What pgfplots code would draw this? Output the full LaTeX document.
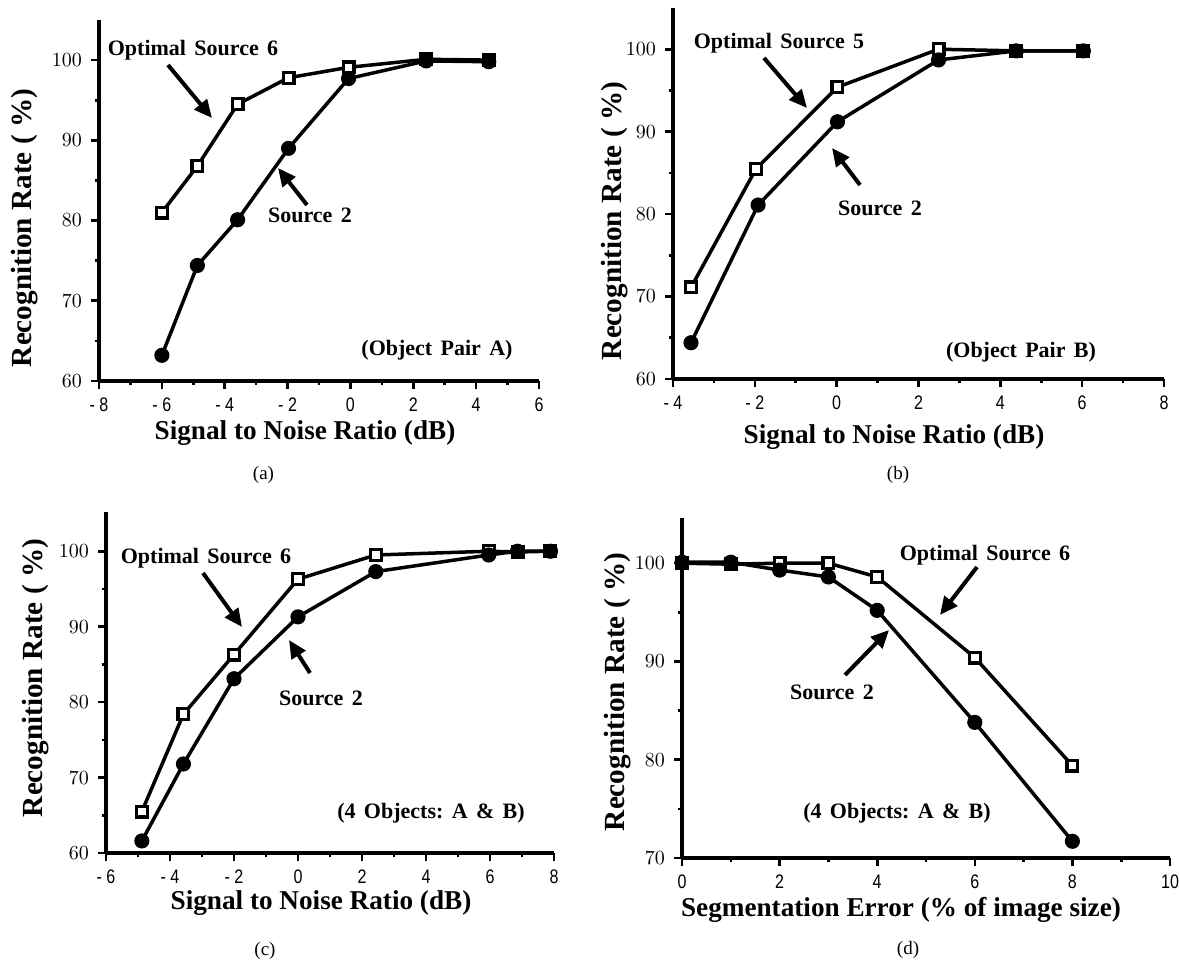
\documentclass[border=0pt]{standalone}
\usepackage{pgfplots}
\pgfplotsset{compat=1.18}
\usepackage{fontspec}
\setmainfont{Liberation Serif}
\newfontfamily\tickfont[FakeStretch=0.82]{Liberation Sans}
\usetikzlibrary{arrows.meta}
\newcommand\ws{\hspace{0.38em}}
\pgfplotsset{
  panel/.style={
    scale only axis,
    anchor=south west,
    axis x line=bottom, axis y line=left,
    axis line style={-, line width=1.7pt},
    tick align=outside,
    major tick length=4pt, minor tick length=2.2pt,
    every tick/.style={line width=1.3pt, black},
    minor x tick num=1, minor y tick num=1,
    ticklabel style={font=\tickfont\fontsize{9.8}{10}\selectfont},
    xticklabel style={yshift=-1pt},
    yticklabel style={xshift=-1pt},
    clip=false,
  },
  optl/.style={black, line width=1.75pt, mark=square*, mark size=2.7pt,
    mark options={fill=white, line width=1.6pt, solid}},
  src/.style={black, line width=1.75pt, mark=*, mark size=2.9pt,
    mark options={fill=black, solid}},
}
\tikzset{
  annt/.style={font=\bfseries\fontsize{11}{12}\selectfont, inner sep=0pt},
  labt/.style={font=\bfseries\fontsize{13.6}{15}\selectfont, inner sep=0pt},
  ylabt/.style={font=\bfseries\fontsize{14.6}{15}\selectfont, inner sep=0pt, rotate=90},
  capt/.style={font=\fontsize{9.5}{11}\selectfont, inner sep=0pt},
  arrw/.style={line width=2pt, -{Triangle[length=9pt,width=8pt]}},
}
\begin{document}
\begin{tikzpicture}[x=1pt,y=1pt]
\useasboundingbox (0,0) rectangle (589.5,480);
% ---------------- (a)
\begin{axis}[panel, at={(49.5pt,289.5pt)}, width=220pt, height=180.5pt,
  xmin=-8, xmax=6, ymin=60, ymax=105,
  xtick={-8,-6,-4,-2,0,2,4,6}, xticklabels={{- 8},{- 6},{- 4},{- 2},0,2,4,6},
  ytick={60,70,80,90,100}]
\addplot[optl] coordinates {(-6,81) (-4.87,86.8) (-3.59,94.5) (-1.97,97.8) (-0.06,99.1) (2.41,100.1) (4.4,100)};
\addplot[src] coordinates {(-6,63.2) (-4.87,74.4) (-3.59,80.1) (-1.97,89) (-0.06,97.7) (2.41,99.9) (4.4,99.8)};
\end{axis}
\node[ylabt] at (12.3,366) {Recognition Rate ( \%)};
\node[labt] at (152.5,263.5) {Signal to Noise Ratio (dB)};
\node[capt] at (131.75,242.5) {(a)};
\node[annt] at (96.5,455) {Optimal\ws Source\ws 6};
\draw[arrw] (84,447.5) -- (106,421);
\node[annt] at (155,372.5) {Source\ws 2};
\draw[arrw] (153.5,377.5) -- (139,396);
\node[annt] at (218.5,305) {(Object\ws Pair\ws A)};
% ---------------- (b)
\begin{axis}[panel, at={(336.5pt,290.5pt)}, width=245.5pt, height=185.5pt,
  xmin=-4, xmax=8, ymin=60, ymax=105,
  xtick={-4,-2,0,2,4,6,8}, xticklabels={{- 4},{- 2},0,2,4,6,8},
  ytick={60,70,80,90,100}]
\addplot[optl] coordinates {(-3.56,71.1) (-1.97,85.5) (0.02,95.4) (2.49,100) (4.39,99.8) (6.03,99.8)};
\addplot[src] coordinates {(-3.56,64.4) (-1.92,81.1) (0.02,91.2) (2.49,98.7) (4.39,99.8) (6.03,99.8)};
\end{axis}
\node[ylabt] at (307.5,369.5) {Recognition Rate ( \%)};
\node[labt] at (447,261.5) {Signal to Noise Ratio (dB)};
\node[capt] at (449,242.5) {(b)};
\node[annt] at (389.5,458.5) {Optimal\ws Source\ws 5};
\draw[arrw] (382,451) -- (403.5,426);
\node[annt] at (440,376) {Source\ws 2};
\draw[arrw] (430,387.5) -- (416,406);
\node[annt] at (510.5,304) {(Object\ws Pair\ws B)};
% ---------------- (c)
\begin{axis}[panel, at={(53pt,53.5pt)}, width=224pt, height=170.5pt,
  xmin=-6, xmax=8, ymin=60, ymax=105.2,
  xtick={-6,-4,-2,0,2,4,6,8}, xticklabels={{- 6},{- 4},{- 2},0,2,4,6,8},
  ytick={60,70,80,90,100}]
\addplot[optl] coordinates {(-4.88,65.5) (-3.58,78.4) (-2,86.3) (0,96.3) (2.43,99.5) (5.96,100) (6.86,99.9) (7.89,100)};
\addplot[src] coordinates {(-4.88,61.6) (-3.58,71.8) (-2,83.1) (0,91.3) (2.43,97.3) (5.96,99.5) (6.86,100) (7.89,100)};
\end{axis}
\node[ylabt] at (18,141) {Recognition Rate ( \%)};
\node[labt] at (160.5,28.5) {Signal to Noise Ratio (dB)};
\node[capt] at (132.5,4.5) {(c)};
\node[annt] at (103,201) {Optimal\ws Source\ws 6};
\draw[arrw] (101.5,193.5) -- (121,166.5);
\node[annt] at (160.5,131) {Source\ws 2};
\draw[arrw] (155,143.5) -- (144.5,160);
\node[annt] at (215.5,73.5) {(4\ws Objects:\ws A\ws \&\ws B)};
% ---------------- (d)
\begin{axis}[panel, at={(341pt,51pt)}, width=244pt, height=170pt,
  xmin=0, xmax=10, ymin=70, ymax=104.6,
  xtick={0,2,4,6,8,10}, xticklabels={0,2,4,6,8,10},
  ytick={70,80,90,100}]
\addplot[optl] coordinates {(0,100) (1,99.9) (2,100) (3,100) (4,98.6) (6,90.4) (8,79.4)};
\addplot[src] coordinates {(0,100.1) (1,100.1) (2,99.3) (3,98.6) (4,95.2) (6,83.8) (8,71.7)};
\end{axis}
\node[ylabt] at (309,134) {Recognition Rate ( \%)};
\node[labt] at (450.5,25) {Segmentation Error (\% of image size)};
\node[capt] at (454,5) {(d)};
\node[annt] at (492.5,202.5) {Optimal\ws Source\ws 6};
\draw[arrw] (488.5,196.5) -- (470,172.5);
\node[annt] at (416,134) {Source\ws 2};
\draw[arrw] (422.5,142.5) -- (444.5,165);
\node[annt] at (448.5,73.5) {(4\ws Objects:\ws A\ws \&\ws B)};
\end{tikzpicture}
\end{document}
